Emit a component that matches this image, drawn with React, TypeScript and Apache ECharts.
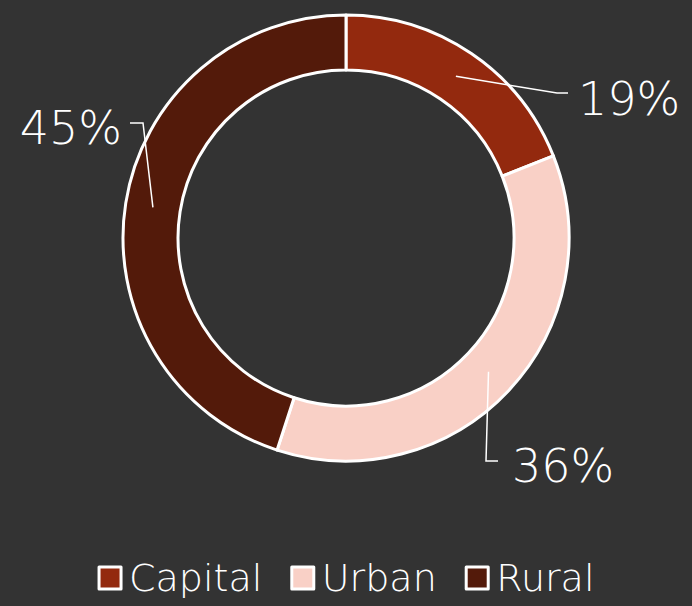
import React, { useEffect, useRef } from "react";
import * as echarts from "echarts";

const categories = ["Capital", "Urban", "Rural"];
const values = [19, 36, 45];
const colors = ["#93290e", "#f9d0c6", "#531a0a"];

const CX = 346;
const CY = 238;
const R_IN = 168;
const R_OUT = 223;
const FONT = "'DejaVu Sans', sans-serif";

// label placement per slice: label anchor, elbow, end of leader line
const LEADERS = [
  { lx: 578, ly: 99, align: "left", elbow: [557, 93], end: [568, 93] },
  { lx: 512, ly: 466, align: "left", elbow: [486, 461], end: [498, 461] },
  { lx: 122, ly: 128, align: "right", elbow: [143, 123], end: [130, 123] },
];

export default function App() {
  const ref = useRef<HTMLDivElement>(null);
  useEffect(() => {
    if (!ref.current) return;
    const chart = echarts.init(ref.current, null, { renderer: "svg" });
    const total = values.reduce((a, b) => a + b, 0);
    const pieData = categories.map((name, i) => ({
      name,
      value: values[i],
      itemStyle: { color: colors[i] },
    }));
    chart.setOption({
      animation: false,
      backgroundColor: "#333333",
      legend: {
        bottom: 4,
        left: "center",
        itemWidth: 22,
        itemHeight: 22,
        itemGap: 28,
        icon: "rect",
        itemStyle: { borderColor: "#ffffff", borderWidth: 3 },
        data: categories.map((name, i) => ({
          name,
          itemStyle: { color: colors[i], borderColor: "#ffffff", borderWidth: 3 },
        })),
        textStyle: {
          color: "#ffffff",
          fontSize: 38,
          fontFamily: FONT,
          fontWeight: 200,
          padding: [0, 0, 0, 3],
        },
      },
      series: [
        {
          type: "pie",
          center: [CX, CY],
          radius: [R_IN, R_OUT],
          startAngle: 90,
          clockwise: true,
          z: 2,
          itemStyle: { borderColor: "#ffffff", borderWidth: 3 },
          label: { show: false },
          labelLine: { show: false },
          emphasis: { disabled: true },
          data: pieData,
        },
        {
          type: "pie",
          center: [CX, CY],
          radius: [R_IN, R_OUT],
          startAngle: 90,
          clockwise: true,
          z: 5,
          silent: true,
          avoidLabelOverlap: false,
          itemStyle: { color: "rgba(0,0,0,0)", borderWidth: 0 },
          label: {
            show: true,
            position: "outside",
            formatter: "{c}%",
            color: "#ffffff",
            fontSize: 46,
            fontFamily: FONT,
            fontWeight: 200,
          },
          labelLine: {
            show: true,
            lineStyle: { color: "#ffffff", width: 1.5 },
          },
          labelLayout: (params: any) => {
            const i = params.dataIndex;
            let cum = 0;
            for (let k = 0; k < i; k++) cum += values[k];
            const mid = ((cum + values[i] / 2) / total) * Math.PI * 2;
            const rMid = (R_IN + R_OUT) / 2;
            const sx = CX + rMid * Math.sin(mid);
            const sy = CY - rMid * Math.cos(mid);
            const L = LEADERS[i];
            return {
              x: L.lx,
              y: L.ly,
              align: L.align,
              verticalAlign: "middle",
              labelLinePoints: [[sx, sy], L.elbow, L.end],
            };
          },
          emphasis: { disabled: true },
          data: categories.map((name, i) => ({
            name,
            value: values[i],
            itemStyle: { color: "rgba(0,0,0,0)" },
          })),
        },
      ],
    });
    return () => chart.dispose();
  }, []);
  return (
    <div
      ref={ref}
      style={{ position: "fixed", left: 0, top: 0, width: 692, height: 606 }}
    />
  );
}
